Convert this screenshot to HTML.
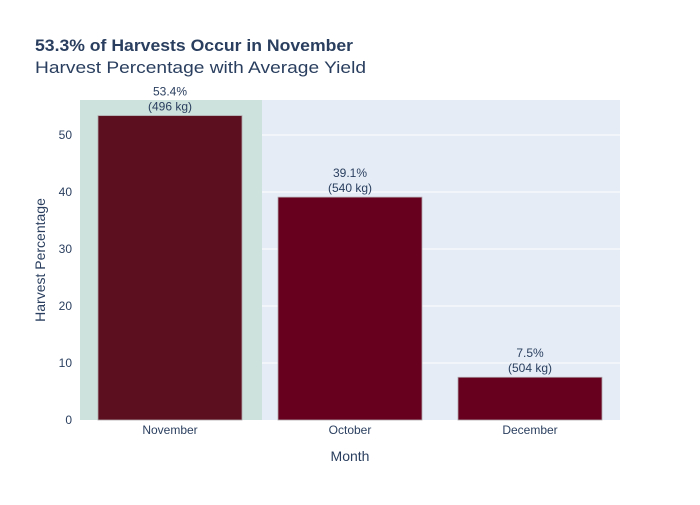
<!DOCTYPE html>
<html><head><meta charset="utf-8"><style>
body{margin:0;background:#fff;font-family:"Liberation Sans","DejaVu Sans",sans-serif}
svg text{font-family:"Liberation Sans","DejaVu Sans",sans-serif;fill:#2a3f5f}
</style></head><body>
<svg id="chart" width="700" height="500" xmlns="http://www.w3.org/2000/svg">
<rect width="700" height="500" fill="#fff"/>
<text x="35" y="51" font-size="17" font-weight="bold" textLength="318" lengthAdjust="spacingAndGlyphs">53.3% of Harvests Occur in November</text>
<text x="35" y="73" font-size="17" textLength="331" lengthAdjust="spacingAndGlyphs">Harvest Percentage with Average Yield</text>
<rect x="80" y="100" width="540" height="320" fill="#e5ecf6"/>
<g id="grid"></g>
<rect id="hl" fill="#cde2dc"/>
<g id="bars"></g>
<text x="350" y="461" font-size="14" text-anchor="middle">Month</text>
<text transform="translate(45,260) rotate(-90)" font-size="14" text-anchor="middle">Harvest Percentage</text>
</svg>
<script>
const categories=["November","October","December"];
const percents=[53.4,39.1,7.5];
const yields=[496,540,504];
const yTicks=[0,10,20,30,40,50];
const NS="http://www.w3.org/2000/svg";
const svg=document.getElementById('chart');
const x0=80,x1=620,y0=420,y1=100,yMax=56.14;
const band=(x1-x0)/categories.length;
const xs=i=>x0+band*i;
const ys=v=>y0-(v/yMax)*(y0-y1);
function mk(t,a,p){const e=document.createElementNS(NS,t);for(const k in a)e.setAttribute(k,a[k]);(p||svg).appendChild(e);return e;}
const grid=document.getElementById('grid');
yTicks.forEach(v=>{
  if(v>0){const l=mk('line',{x1:x0,x2:x1,y1:ys(v),y2:ys(v),stroke:'#fff','stroke-width':1},grid);
  
  }
  const t=mk('text',{x:x0-8,y:ys(v)+4,'font-size':12,'text-anchor':'end'});
  t.textContent=v;
  
  
});
const hl=document.getElementById('hl');
hl.setAttribute('x',xs(0));hl.setAttribute('y',y1);hl.setAttribute('width',band+2);hl.setAttribute('height',y0-y1);
const bars=document.getElementById('bars');
categories.forEach((c,i)=>{
  const bx=xs(i)+band*0.1,bw=band*0.8,top=ys(percents[i]);
  const r=mk('rect',{x:bx,y:top,width:bw,height:y0-top,fill:i===0?'#5c0f1e':'#67001f',stroke:'#b0a8ab','stroke-width':0.8},bars);
  
  
  const cx=xs(i)+band/2;
  const t1=mk('text',{x:cx,y:top-20,'font-size':12,'text-anchor':'middle'});
  t1.textContent=percents[i].toFixed(1)+'%';
  
  
  const t2=mk('text',{x:cx,y:top-5,'font-size':12,'text-anchor':'middle'});
  t2.textContent='('+yields[i]+' kg)';
  
  
  const t3=mk('text',{x:cx,y:y0+14,'font-size':12,'text-anchor':'middle'});
  t3.textContent=c;
  
  
});
</script>
</body></html>
